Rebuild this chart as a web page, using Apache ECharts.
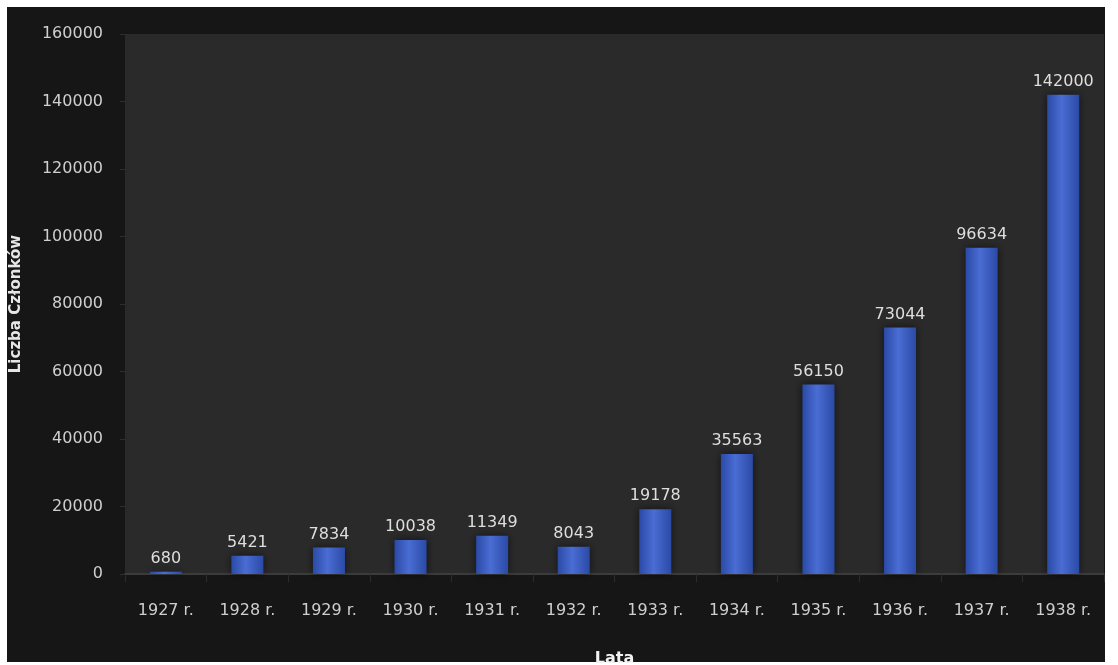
<!DOCTYPE html>
<html>
<head>
<meta charset="utf-8">
<style>
html,body{margin:0;padding:0;background:#ffffff;}
#chart{width:1118px;height:665px;}
</style>
<script src="https://cdn.jsdelivr.net/npm/echarts@6/dist/echarts.min.js"></script>
</head>
<body>
<div id="chart"></div>
<script>
const categories = ['1927 r.','1928 r.','1929 r.','1930 r.','1931 r.','1932 r.','1933 r.','1934 r.','1935 r.','1936 r.','1937 r.','1938 r.'];
const members = [680, 5421, 7834, 10038, 11349, 8043, 19178, 35563, 56150, 73044, 96634, 142000];
const yTicks = { min: 0, max: 160000, interval: 20000 };

const chart = echarts.init(document.getElementById('chart'), null, {renderer: 'canvas'});
chart.setOption({
  backgroundColor: '#ffffff',
  animation: false,
  graphic: [{
    type: 'rect', z: -10, silent: true,
    shape: {x: 7, y: 7, width: 1098, height: 655},
    style: {fill: '#161616'}
  }],
  grid: {
    left: 125, right: 14, top: 34, bottom: 91,
    containLabel: false,
    outerBoundsMode: 'none',
    show: true, backgroundColor: '#2a2a2a', borderWidth: 0
  },
  xAxis: {
    type: 'category',
    data: categories,
    name: 'Lata',
    nameLocation: 'middle',
    nameGap: 77,
    nameTextStyle: {color: '#f2f2f2', fontSize: 16, fontWeight: 'bold', fontFamily: 'DejaVu Sans'},
    axisLine: {lineStyle: {color: '#3c3c3c', width: 2}},
    axisTick: {show: true, length: 8, lineStyle: {color: '#2c2c2c'}},
    axisLabel: {color: '#cfcfcf', fontSize: 16, margin: 29, fontFamily: 'DejaVu Sans'}
  },
  yAxis: {
    type: 'value',
    min: yTicks.min, max: yTicks.max, interval: yTicks.interval,
    name: 'Liczba Członków',
    nameLocation: 'middle',
    nameGap: 101,
    nameTextStyle: {color: '#e6e6e6', fontSize: 15, fontWeight: 'bold', fontFamily: 'DejaVu Sans'},
    axisLine: {show: false},
    axisTick: {show: true, length: 5, lineStyle: {color: '#2e2e2e'}},
    splitLine: {show: false},
    axisLabel: {color: '#cfcfcf', fontSize: 16, margin: 22, fontFamily: 'DejaVu Sans',
      formatter: v => String(v)}
  },
  series: [{
    type: 'bar',
    data: members,
    barWidth: 32,
    itemStyle: {
      color: new echarts.graphic.LinearGradient(0, 0, 1, 0, [
        {offset: 0, color: '#2b4aa6'},
        {offset: 0.45, color: '#4a6dd4'},
        {offset: 1, color: '#2b4aa6'}
      ]),
      shadowBlur: 8,
      shadowColor: 'rgba(0,0,0,0.6)'
    },
    label: {
      show: true,
      position: 'top',
      distance: 5,
      color: '#dedede',
      fontSize: 16,
      fontFamily: 'DejaVu Sans'
    }
  }]
});
</script>
</body>
</html>
